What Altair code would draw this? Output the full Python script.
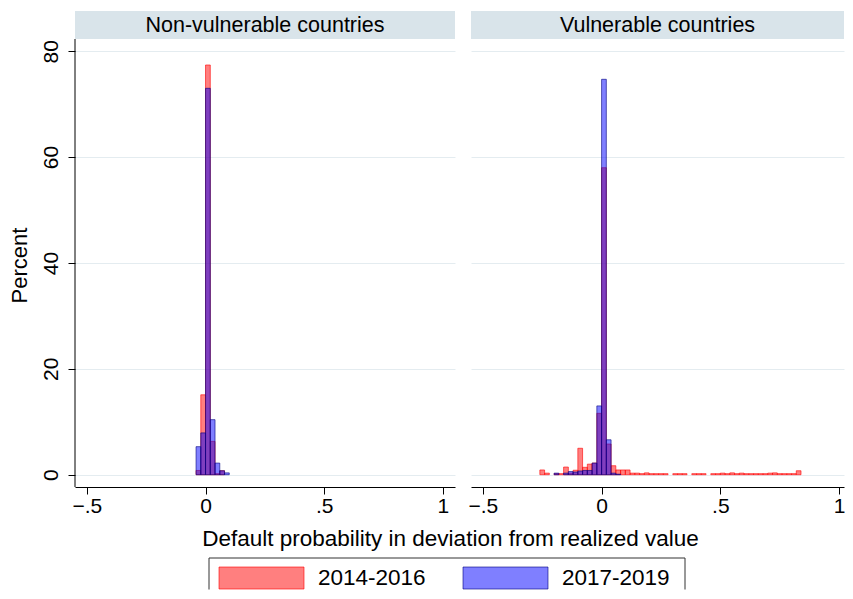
import altair as alt
import pandas as pd

FONT = "Liberation Sans"

panels = ["Non-vulnerable countries", "Vulnerable countries"]
periods = ["2014-2016", "2017-2019"]
bin_width = 0.02

# left panel: bin start, percent per period
left_bins = [-0.04, -0.02, 0.0, 0.02, 0.04, 0.06, 0.08]
left_2014 = [0.8, 15.1, 77.4, 6.3, 0.2, 0.75, 0.0]
left_2017 = [5.3, 7.9, 73.0, 10.4, 2.2, 0.75, 0.35]

# right panel
right_bins = [
    -0.26, -0.24, -0.22, -0.20, -0.18, -0.16, -0.14, -0.12, -0.10, -0.08,
    -0.06, -0.04, -0.02, 0.00, 0.02, 0.04, 0.06, 0.08, 0.10, 0.12,
    0.14, 0.16, 0.18, 0.20, 0.22, 0.24, 0.26, 0.28, 0.30, 0.32,
    0.34, 0.36, 0.38, 0.40, 0.42, 0.44, 0.46, 0.48, 0.50, 0.52,
    0.54, 0.56, 0.58, 0.60, 0.62, 0.64, 0.66, 0.68, 0.70, 0.72,
    0.74, 0.76, 0.78, 0.80, 0.82,
]
right_2014 = [
    0.9, 0.3, 0.0, 0.2, 0.2, 1.45, 0.3, 0.85, 5.0, 1.4,
    2.0, 2.2, 11.6, 58.0, 5.8, 1.7, 0.9, 0.9, 0.9, 0.3,
    0.3, 0.2, 0.35, 0.2, 0.2, 0.2, 0.2, 0.0, 0.2, 0.2,
    0.2, 0.0, 0.2, 0.2, 0.2, 0.0, 0.2, 0.2, 0.3, 0.2,
    0.35, 0.2, 0.3, 0.2, 0.2, 0.2, 0.2, 0.2, 0.3, 0.35,
    0.2, 0.2, 0.2, 0.2, 0.75,
]
right_2017 = [
    0.0, 0.0, 0.0, 0.3, 0.0, 0.3, 0.6, 0.5, 0.7, 0.8,
    0.8, 2.2, 13.0, 74.7, 6.6, 0.3, 0.1, 0.0, 0.0, 0.0,
    0.0, 0.0, 0.0, 0.0, 0.0, 0.0, 0.0, 0.0, 0.0, 0.0,
    0.0, 0.0, 0.0, 0.0, 0.0, 0.0, 0.0, 0.0, 0.0, 0.0,
    0.0, 0.0, 0.0, 0.0, 0.0, 0.0, 0.0, 0.0, 0.0, 0.0,
    0.0, 0.0, 0.0, 0.0, 0.0,
]

FILLS = ["#ff0000", "#0000ff"]
EDGES = ["#ff0000", "#000080"]


def hist_frame(bins, a, b):
    rows = [{"period": periods[0], "bin": x, "pct": v} for x, v in zip(bins, a)]
    rows += [{"period": periods[1], "bin": x, "pct": v} for x, v in zip(bins, b)]
    return pd.DataFrame(rows)


COLOR = alt.Color("period:N", scale=alt.Scale(domain=periods, range=FILLS), legend=None)
STROKE = alt.Stroke("period:N", scale=alt.Scale(domain=periods, range=EDGES), legend=None)

STRIP_H = 28
PLOT_H = 448
Y_DOMAIN = [-2.32, 87.6]  # top part of the range sits behind the strip


def legend_layers():
    """Legend drawn under the left panel (pixel positions relative to that panel)."""
    box_l, box_r, box_t, box_b = 134, 610, 547, 578.5
    one = alt.Data(values=[{"k": 0}])
    out = [
        alt.Chart(one).mark_rule(color="#333333").encode(
            x=alt.value(box_l), x2=alt.value(box_r), y=alt.value(box_t)
        ),
        alt.Chart(one).mark_rule(color="#333333").encode(
            x=alt.value(box_l), y=alt.value(box_t), y2=alt.value(box_b)
        ),
        alt.Chart(one).mark_rule(color="#333333").encode(
            x=alt.value(box_r), y=alt.value(box_t), y2=alt.value(box_b)
        ),
    ]
    sym_x = [144, 388]
    for i, p in enumerate(periods):
        item = alt.Data(values=[{"period": p}])
        out.append(
            alt.Chart(item)
            .mark_rect(fill=FILLS[i], fillOpacity=0.5, stroke=EDGES[i], strokeOpacity=0.6, strokeWidth=1)
            .encode(x=alt.value(sym_x[i]), x2=alt.value(sym_x[i] + 85), y=alt.value(556), y2=alt.value(578))
        )
        out.append(
            alt.Chart(item)
            .mark_text(font=FONT, fontSize=22.5, color="black", align="left", baseline="alphabetic")
            .encode(x=alt.value(sym_x[i] + 99), y=alt.value(574), text="period:N")
        )
    return out


def panel(df, title, width, x_max, first):
    x_axis = alt.Axis(
        values=[-0.5, 0, 0.5, 1],
        labelExpr="replace(format(datum.value, '~g'), '0.', '.')",
        labelFont=FONT,
        labelFontSize=21,
        labelColor="black",
        labelPadding=1,
        tickSize=7,
        tickColor="black",
        domainColor="black",
        grid=False,
        title="Default probability in deviation from realized value" if first else None,
        titleFont=FONT,
        titleFontSize=22.5,
        titleFontWeight="normal",
        titleColor="black",
        titleX=375,
        titleY=51,
        titleAlign="center",
        titleBaseline="middle",
    )
    if first:
        y_axis = alt.Axis(
            values=[0, 20, 40, 60, 80],
            labelAngle=270,
            labelAlign="center",
            labelBaseline="alphabetic",
            labelPadding=11,
            labelFont=FONT,
            labelFontSize=21,
            labelColor="black",
            tickSize=7,
            tickColor="black",
            domain=False,
            gridColor="#e4ecf0",
            title="Percent",
            titleFont=FONT,
            titleFontSize=22,
            titleFontWeight="normal",
            titleColor="black",
            titleX=-56,
            titleY=254,
            titleAngle=270,
            titleAlign="center",
            titleBaseline="middle",
        )
    else:
        y_axis = alt.Axis(
            values=[0, 20, 40, 60, 80],
            labels=False,
            ticks=False,
            domain=False,
            gridColor="#e4ecf0",
            title=None,
        )

    bars = (
        alt.Chart(df)
        .transform_filter(alt.datum.pct > 0)
        .transform_calculate(bin_end=f"datum.bin + {bin_width}", base="0")
        .mark_rect(fillOpacity=0.5, strokeOpacity=0.6, strokeWidth=1)
        .encode(
            x=alt.X("bin:Q", scale=alt.Scale(domain=[-0.55, x_max], nice=False, zero=False), axis=x_axis),
            x2="bin_end:Q",
            y=alt.Y("pct:Q", scale=alt.Scale(domain=Y_DOMAIN, nice=False, zero=False), axis=y_axis),
            y2="base:Q",
            color=COLOR,
            stroke=STROKE,
        )
    )

    head = alt.Data(values=[{"label": title}])
    strip = alt.Chart(head).mark_rect(color="#d9e4ea").encode(
        x=alt.value(0), x2=alt.value(width), y=alt.value(0), y2=alt.value(STRIP_H)
    )
    strip_text = alt.Chart(head).mark_text(
        font=FONT, fontSize=21.5, color="black", baseline="middle"
    ).encode(x=alt.value(width / 2), y=alt.value(STRIP_H / 2 + 1), text="label:N")

    layers = [strip, strip_text, bars]
    if first:
        axis_line = alt.Chart(head).mark_rule(color="black", strokeWidth=1).encode(
            x=alt.value(0), y=alt.value(STRIP_H), y2=alt.value(STRIP_H + PLOT_H)
        )
        layers.append(axis_line)
        layers += legend_layers()

    return alt.layer(*layers).properties(width=width, height=STRIP_H + PLOT_H)


left = panel(hist_frame(left_bins, left_2014, left_2017), panels[0], 380, 1.051, True)
right = panel(hist_frame(right_bins, right_2014, right_2017), panels[1], 373, 1.021, False)

chart = (
    alt.hconcat(left, right, spacing=16, bounds="flush")
    .properties(padding={"left": 0, "top": 3, "right": 0, "bottom": 0}, background="white")
    .configure_view(stroke=None)
)

chart.save("out.html", embed_options={"renderer": "svg", "actions": False})
